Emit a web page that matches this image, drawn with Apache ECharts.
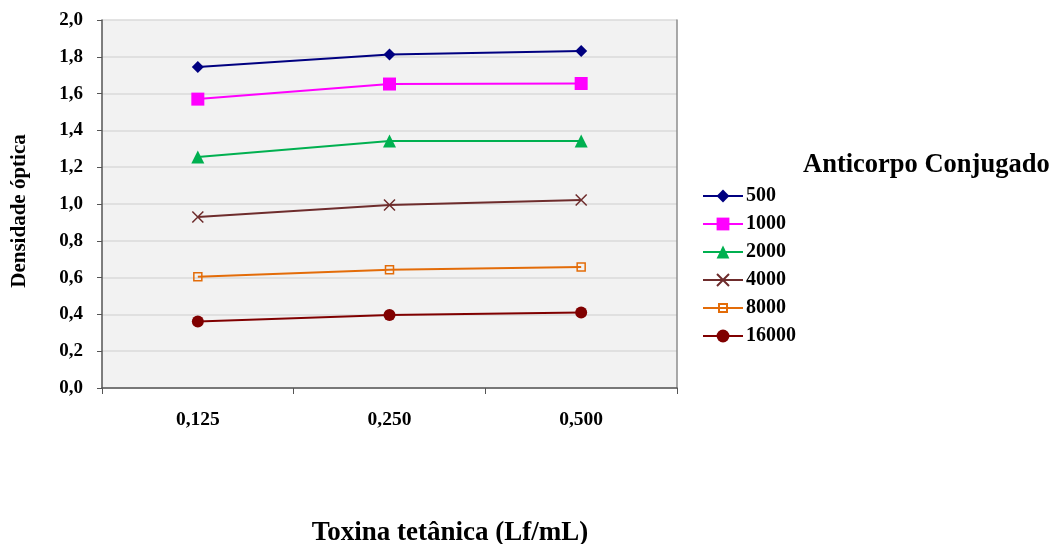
<!DOCTYPE html>
<html>
<head>
<meta charset="utf-8">
<script src="https://cdn.jsdelivr.net/npm/echarts@6/dist/echarts.min.js"></script>
<style>
  html, body { margin: 0; padding: 0; background: #ffffff; }
  #chart { width: 1052px; height: 544px; }
</style>
</head>
<body>
<div id="chart"></div>
<script>
// Toxin concentrations (Lf/mL)
const categories = ['0,125', '0,250', '0,500'];

// Optical density per conjugated antibody dilution
const s500 = [1.745, 1.812, 1.832];
const s1000 = [1.570, 1.652, 1.655];
const s2000 = [1.255, 1.342, 1.343];
const s4000 = [0.929, 0.995, 1.022];
const s8000 = [0.605, 0.643, 0.658];
const s16000 = [0.362, 0.397, 0.410];

const seriesNames = ['500', '1000', '2000', '4000', '8000', '16000'];
const yTickLabels = ['0,0', '0,2', '0,4', '0,6', '0,8', '1,0', '1,2', '1,4', '1,6', '1,8', '2,0'];

const serif = '"Liberation Serif", "DejaVu Serif", serif';

function lineSeries(name, data, color, symbol, size, itemStyle) {
  return {
    name: name,
    type: 'line',
    data: data,
    color: color,
    symbol: symbol,
    symbolSize: size,
    showAllSymbol: true,
    lineStyle: { color: color, width: 2 },
    itemStyle: itemStyle || { color: color },
    emphasis: { disabled: true },
    z: 3
  };
}

// One legend block per series so each keeps its own marker size
const legendIconHeights = [16, 16, 16, 15, 10, 16];
const legends = seriesNames.map(function (name, i) {
  return {
    orient: 'vertical',
    left: 702,
    top: 186 + i * 28,
    padding: 0,
    itemWidth: 40,
    itemHeight: legendIconHeights[i],
    data: [name],
    textStyle: { fontFamily: serif, fontSize: 20, fontWeight: 'bold', color: '#000', padding: [0, 0, 0, -2] },
    selectedMode: false
  };
});

const chart = echarts.init(document.getElementById('chart'), null, { renderer: 'canvas' });

chart.setOption({
  animation: false,
  backgroundColor: '#ffffff',
  grid: {
    left: 102, right: 375, top: 20, bottom: 156,
    outerBoundsMode: 'none',
    containLabel: false,
    show: true, backgroundColor: '#f2f2f2', borderWidth: 0
  },
  title: [
    {
      text: 'Anticorpo Conjugado',
      left: 798, top: 147,
      textStyle: { fontFamily: serif, fontSize: 26.5, fontWeight: 'bold', color: '#000' }
    }
  ],
  legend: legends,
  graphic: [
    {
      type: 'text',
      x: 450, y: 533,
      silent: true,
      style: {
        text: 'Toxina tetânica (Lf/mL)',
        fontFamily: serif, fontSize: 27, fontWeight: 'bold', fill: '#000',
        align: 'center', verticalAlign: 'middle'
      }
    },
    {
      type: 'text',
      x: 20, y: 211,
      rotation: Math.PI / 2,
      silent: true,
      style: {
        text: 'Densidade óptica',
        fontFamily: serif, fontSize: 21, fontWeight: 'bold', fill: '#000',
        align: 'center', verticalAlign: 'middle'
      }
    }
  ],
  xAxis: {
    type: 'category',
    data: categories,
    boundaryGap: true,
    axisLine: { show: true, lineStyle: { color: '#555', width: 1.5 } },
    axisTick: { show: true, alignWithLabel: false, length: 6, lineStyle: { color: '#555' } },
    axisLabel: { fontFamily: serif, fontSize: 19.5, fontWeight: 'bold', color: '#000', margin: 22 },
    splitLine: { show: false }
  },
  yAxis: [
    {
      type: 'value',
      min: 0, max: 2, interval: 0.2,
      axisLine: { show: true, lineStyle: { color: '#555', width: 1.5 } },
      axisTick: { show: true, length: 5, lineStyle: { color: '#555' } },
      axisLabel: {
        fontFamily: serif, fontSize: 19, fontWeight: 'bold', color: '#000', margin: 19,
        formatter: function (v) { return yTickLabels[Math.round(v / 0.2)]; }
      },
      splitLine: { show: true, lineStyle: { color: '#dadada', width: 1.5 } }
    },
    {
      type: 'value',
      min: 0, max: 2, interval: 0.2,
      position: 'right',
      axisLine: { show: true, lineStyle: { color: '#8c8c8c', width: 1.5 } },
      axisTick: { show: false },
      axisLabel: { show: false },
      splitLine: { show: false }
    }
  ],
  series: [
    lineSeries('500', s500, '#000080', 'diamond', 12),
    lineSeries('1000', s1000, '#ff00ff', 'rect', 13),
    lineSeries('2000', s2000, '#00b050', 'triangle', 13),
    lineSeries('4000', s4000, '#6e2c2c', 'path://M0,0L10,10M10,0L0,10', 11,
      { color: 'rgba(0,0,0,0)', borderColor: '#6e2c2c', borderWidth: 1.5 }),
    lineSeries('8000', s8000, '#e36c09', 'rect', 8,
      { color: 'rgba(0,0,0,0)', borderColor: '#e36c09', borderWidth: 1.5 }),
    lineSeries('16000', s16000, '#800000', 'circle', 12)
  ]
});
</script>
</body>
</html>
